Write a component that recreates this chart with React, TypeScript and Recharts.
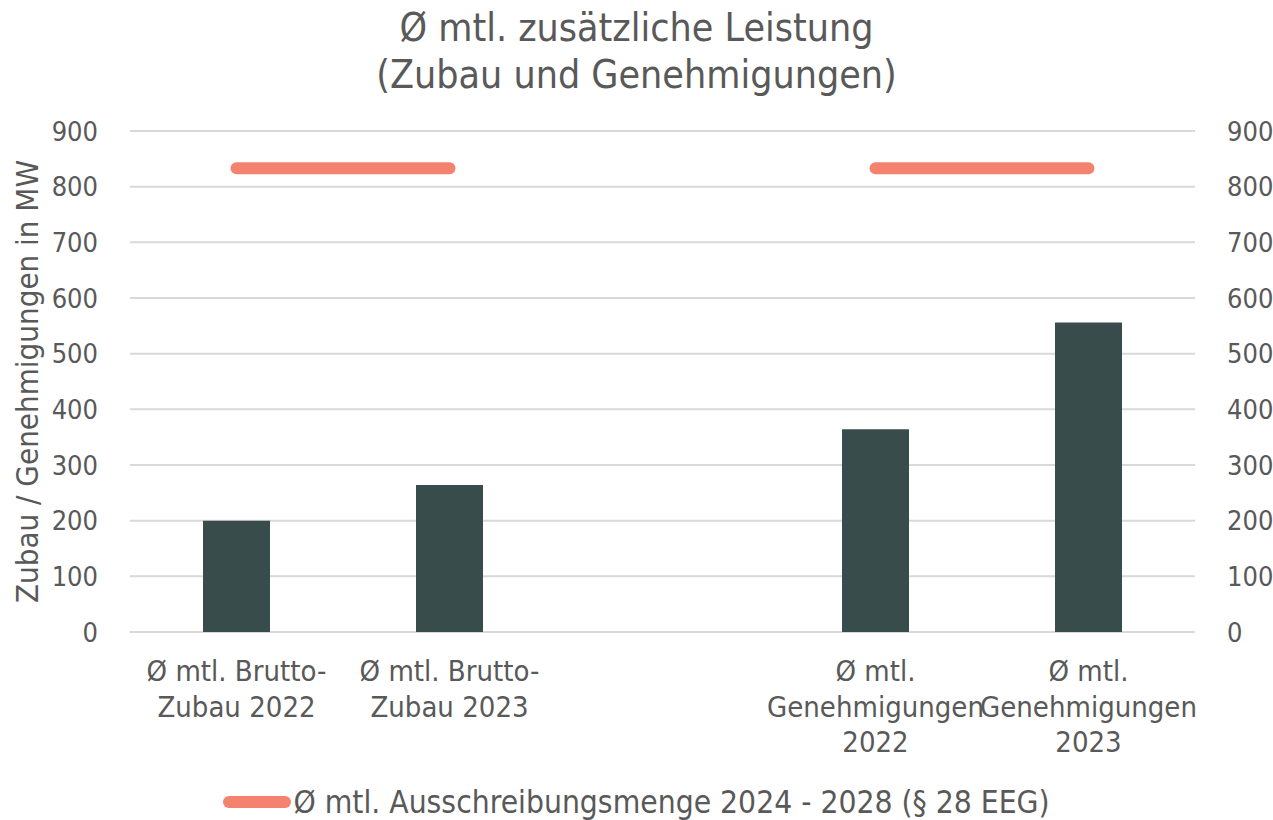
import { Bar, CartesianGrid, ComposedChart, Line, XAxis, YAxis } from 'recharts'

const categories = [
  'Ø mtl. Brutto-Zubau 2022',
  'Ø mtl. Brutto-Zubau 2023',
  '',
  'Ø mtl. Genehmigungen 2022',
  'Ø mtl. Genehmigungen 2023',
]
const tickLines = [
  ['Ø mtl. Brutto-', 'Zubau 2022'],
  ['Ø mtl. Brutto-', 'Zubau 2023'],
  [],
  ['Ø mtl.', 'Genehmigungen', '2022'],
  ['Ø mtl.', 'Genehmigungen', '2023'],
]
const zubau = [200, 264, null, 364, 556]
const ausschreibung = [833, 833, null, 833, 833]
const yTicks = [0, 100, 200, 300, 400, 500, 600, 700, 800, 900]

const data = categories.map((name, i) => ({
  name,
  idx: i,
  zubau: zubau[i],
  ausschreibung: ausschreibung[i],
}))

const FONT = '"DejaVu Sans Condensed", "DejaVu Sans", sans-serif'
const GREY = '#595959'
const BAR = '#384d4b'
const LINE = '#f4826f'

function CategoryTick({ x, y, payload }: any) {
  const lines = tickLines[payload.value] || []
  return (
    <text x={x} y={y + 41} textAnchor="middle" fill={GREY} fontSize={29} fontFamily={FONT}>
      {lines.map((l, i) => (
        <tspan key={i} x={x} dy={i === 0 ? 0 : 35.5}>
          {l}
        </tspan>
      ))}
    </text>
  )
}

export default function App() {
  return (
    <div style={{ position: 'absolute', left: 0, top: 0, width: 1273, height: 820, fontFamily: FONT, color: GREY }}>
      <div style={{ position: 'absolute', left: 0, top: 4, width: 1273, textAlign: 'center', fontSize: 39, lineHeight: '47px' }}>
        Ø mtl. zusätzliche Leistung
        <br />
        (Zubau und Genehmigungen)
      </div>
      <ComposedChart
        width={1273}
        height={820}
        data={data}
        margin={{ top: 131, right: 0, left: 0, bottom: 0 }}
        barCategoryGap={0}
      >
        <CartesianGrid vertical={false} stroke="#d9d9d9" strokeWidth={2} yAxisId="left" />
        <XAxis
          dataKey="idx"
          tick={<CategoryTick />}
          tickLine={false}
          axisLine={false}
          interval={0}
          height={188}
        />
        <YAxis
          yAxisId="left"
          domain={[0, 900]}
          ticks={yTicks}
          interval={0}
          width={130}
          tickLine={false}
          axisLine={false}
          tickMargin={26}
          tick={{ fill: GREY, fontSize: 27, fontFamily: FONT }}
          label={{
            value: 'Zubau / Genehmigungen in MW',
            angle: -90,
            position: 'insideLeft',
            dx: 22,
            style: { textAnchor: 'middle', fill: GREY, fontSize: 31, fontFamily: FONT },
          }}
        />
        <YAxis
          yAxisId="right"
          orientation="right"
          domain={[0, 900]}
          ticks={yTicks}
          interval={0}
          width={78}
          tickLine={false}
          axisLine={false}
          tickMargin={26}
          tick={{ fill: GREY, fontSize: 27, fontFamily: FONT }}
        />
        <Bar dataKey="zubau" yAxisId="left" fill={BAR} barSize={67} isAnimationActive={false} />
        <Line
          dataKey="ausschreibung"
          yAxisId="right"
          stroke={LINE}
          strokeWidth={12}
          strokeLinecap="round"
          dot={false}
          activeDot={false}
          connectNulls={false}
          isAnimationActive={false}
        />
      </ComposedChart>
      <div
        style={{
          position: 'absolute',
          left: 0,
          top: 782,
          width: 1273,
          display: 'flex',
          justifyContent: 'center',
          alignItems: 'center',
          fontSize: 31.5,
          lineHeight: '40px',
        }}
      >
        <span style={{ display: 'inline-block', width: 68, height: 12, borderRadius: 6, background: LINE, marginRight: 2 }} />
        <span>Ø mtl. Ausschreibungsmenge 2024 - 2028 (§ 28 EEG)</span>
      </div>
    </div>
  )
}
